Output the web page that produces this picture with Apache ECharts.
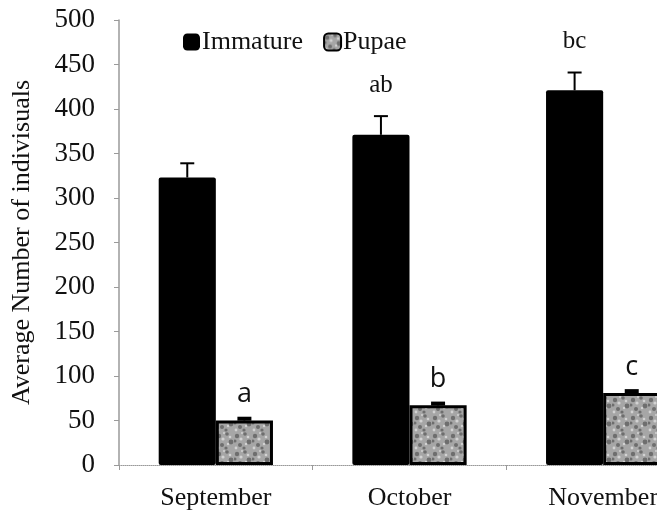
<!DOCTYPE html>
<html>
<head>
<meta charset="utf-8">
<style>
  html, body { margin: 0; padding: 0; background: #fff; overflow: hidden; }
  #chart { width: 700px; height: 520px; }
</style>
<script src="https://cdn.jsdelivr.net/npm/echarts@6/dist/echarts.min.js"></script>
</head>
<body>
<div id="chart"></div>
<script>
// ---- data ----
const months = ['September', 'October', 'November'];
const immatureMean = [323, 371, 421];
const immatureErr = [16, 21, 20];
const pupaeMean = [50, 67, 81];
const pupaeErr = [2, 2, 2];
const immatureLetters = ['', 'ab', 'bc'];
const pupaeLetters = ['a', 'b', 'c'];
const yTicks = { min: 0, max: 500, interval: 50 };

// ---- style ----
const BAR_RATIO = 0.295;
const SERIF = '"Liberation Serif", "Times New Roman", serif';
const SANS = '"Open Sans", "Liberation Sans", sans-serif';

function makeTexture() {
  const c = document.createElement('canvas');
  c.width = 18; c.height = 18;
  const g = c.getContext('2d');
  g.fillStyle = '#a6a6a6';
  g.fillRect(0, 0, 18, 18);
  const dark = [[3,4,2.2],[11,2,1.8],[15,10,2.4],[6,13,2.0],[10,16,1.6],[1,9,1.5]];
  const light = [[7,7,1.6],[14,5,1.3],[2,16,1.4],[12,12,1.2],[8,1,1.0]];
  g.fillStyle = '#6e6e6e';
  dark.forEach(d => { g.beginPath(); g.arc(d[0], d[1], d[2], 0, Math.PI * 2); g.fill(); });
  g.fillStyle = '#d2d2d2';
  light.forEach(d => { g.beginPath(); g.arc(d[0], d[1], d[2], 0, Math.PI * 2); g.fill(); });
  return c;
}

function errRender(side, lw, capHalf) {
  return function (params, api) {
    const x = api.value(0), m = api.value(1), e = api.value(2);
    const band = api.size([1, 0])[0];
    const bw = band * BAR_RATIO;
    const base = api.coord([x, m]);
    const cx = base[0] + side * bw / 2;
    const top = api.coord([x, m + e])[1];
    return {
      type: 'group',
      children: [
        { type: 'line', shape: { x1: cx, y1: base[1], x2: cx, y2: top }, style: { stroke: '#000', lineWidth: 2 } },
        { type: 'line', shape: { x1: cx - capHalf, y1: top, x2: cx + capHalf, y2: top }, style: { stroke: '#000', lineWidth: lw } }
      ]
    };
  };
}

function letterRender(side, letters, offset, font) {
  return function (params, api) {
    const x = api.value(0), m = api.value(1), e = api.value(2);
    const band = api.size([1, 0])[0];
    const bw = band * BAR_RATIO;
    const p = api.coord([x, m + e]);
    const txt = letters[params.dataIndex];
    if (!txt) return null;
    return {
      type: 'text',
      style: {
        x: p[0] + side * bw / 2, y: p[1] - offset,
        text: txt, font: font, fill: '#111',
        align: 'center', verticalAlign: 'middle'
      }
    };
  };
}

const immErrData = months.map((_, i) => [i, immatureMean[i], immatureErr[i]]);
const pupErrData = months.map((_, i) => [i, pupaeMean[i], pupaeErr[i]]);

const chart = echarts.init(document.getElementById('chart'), null, { renderer: 'canvas' });
chart.setOption({
  backgroundColor: '#fff',
  animation: false,
  grid: { left: 119, right: 0, top: 20, bottom: 55, containLabel: false },
  legend: {
    left: 183, top: 29, padding: 0,
    itemWidth: 17, itemHeight: 17, itemGap: 20,
    textStyle: { fontFamily: SERIF, fontSize: 26, color: '#111', padding: [0, 0, 0, -3] },
    data: [
      { name: 'Immature', icon: 'roundRect' },
      { name: 'Pupae', icon: 'roundRect' }
    ]
  },
  xAxis: {
    type: 'category',
    data: months,
    axisLine: { lineStyle: { color: '#9a9a9a', width: 1, type: 'dotted' } },
    axisTick: { show: true, length: 5, lineStyle: { color: '#9a9a9a' } },
    axisLabel: { fontFamily: SERIF, fontSize: 26, color: '#111', margin: 20 }
  },
  yAxis: {
    type: 'value',
    min: yTicks.min, max: yTicks.max, interval: yTicks.interval,
    name: 'Average Number of indivisuals',
    nameLocation: 'middle', nameRotate: 90, nameGap: 84,
    nameTextStyle: { fontFamily: SERIF, fontSize: 26, color: '#111' },
    axisLine: { show: true, lineStyle: { color: '#9a9a9a', width: 1.5 } },
    axisTick: { show: true, length: 5, lineStyle: { color: '#9a9a9a' } },
    axisLabel: { fontFamily: SERIF, fontSize: 27, color: '#111', margin: 24 },
    splitLine: { show: false }
  },
  series: [
    {
      name: 'Immature', type: 'bar', data: immatureMean,
      barWidth: (BAR_RATIO * 100) + '%', barGap: '0%',
      itemStyle: { color: '#000', borderRadius: 2 }
    },
    {
      name: 'Pupae', type: 'bar', data: pupaeMean,
      barWidth: (BAR_RATIO * 100) + '%', barGap: '0%',
      itemStyle: { color: { image: makeTexture(), repeat: 'repeat' }, borderColor: '#000', borderWidth: 3 }
    },
    {
      type: 'custom', name: 'immErr', data: immErrData, z: 5,
      renderItem: errRender(-1, 2, 7), silent: true
    },
    {
      type: 'custom', name: 'pupErr', data: pupErrData, z: 5,
      renderItem: errRender(1, 4, 7), silent: true
    },
    {
      type: 'custom', name: 'immLetters', data: immErrData, z: 6,
      renderItem: letterRender(-1, immatureLetters, 31, '25px ' + SERIF), silent: true
    },
    {
      type: 'custom', name: 'pupLetters', data: pupErrData, z: 6,
      renderItem: letterRender(1, pupaeLetters, 24, '27px ' + SANS), silent: true
    }
  ]
});
</script>
</body>
</html>
